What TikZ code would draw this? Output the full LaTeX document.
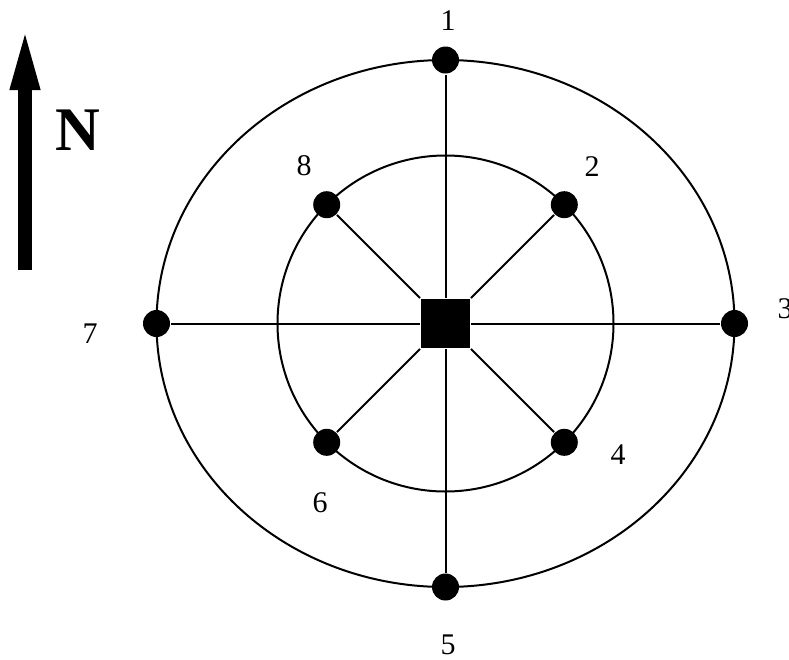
\documentclass[tikz,border=0pt]{standalone}
\usepackage{fontspec}
\setmainfont{Liberation Serif}
\usetikzlibrary{arrows.meta, positioning, calc}

\begin{document}
\begin{tikzpicture}[x=1pt, y=-1pt, line width=2pt,
  station/.style={circle, fill=black, inner sep=0pt, minimum size=27pt},
  hub/.style={rectangle, fill=black, inner sep=0pt, minimum size=49pt},
  lbl/.style={font=\fontsize{30}{36}\selectfont, inner sep=0pt}]
  \useasboundingbox (0,0) rectangle (789,659);

  % Rings
  \draw (445.5,323.5) ellipse [x radius=289, y radius=263.5];
  \draw (445.5,323.5) circle [radius=168];

  % Sampling points
  \node[hub] (c) at (445.5,323.5) {};
  \node[station] (p1) at (445.5,60) {};
  \node[station] (p2) at (564.3,204.7) {};
  \node[station] (p3) at (734.5,323.5) {};
  \node[station] (p4) at (564.3,442.3) {};
  \node[station] (p5) at (445.5,587) {};
  \node[station] (p6) at (326.7,442.3) {};
  \node[station] (p7) at (156.5,323.5) {};
  \node[station] (p8) at (326.7,204.7) {};

  % Spokes
  \foreach \i in {1,...,8}
    \draw (c) -- (p\i);

  % Numbers
  \node[lbl] (n1) at (448,21) {1};
  \node[lbl] (n2) at (592,167) {2};
  \node[lbl] (n3) at (785,309) {3};
  \node[lbl] (n4) at (618,455) {4};
  \node[lbl] (n5) at (448,645) {5};
  \node[lbl] (n6) at (320,503) {6};
  \node[lbl] (n7) at (90,334) {7};
  \node[lbl] (n8) at (304,166) {8};

  % North arrow
  \coordinate (ntail) at (25,270);
  \coordinate (nhead) at (25,24);
  \draw[line width=14pt, -{Triangle[length=66pt, width=26pt]}] (ntail) -- (nhead);
  \node[font=\fontsize{62}{74}\selectfont\bfseries, inner sep=0pt] (north) at (78,130) {N};
\end{tikzpicture}
\end{document}
